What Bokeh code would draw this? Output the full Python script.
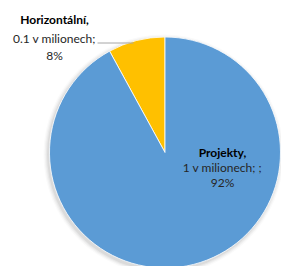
from math import pi
from bokeh.plotting import figure
from bokeh.models import Range1d
from bokeh.core.properties import value
from bokeh.embed import file_html
from bokeh.resources import INLINE

# data
categories = ["Horizontální", "Projekty"]
values = [0.09, 1.04]
value_labels = ["0.1", "1"]
label_suffix = ["", " ;"]
colors = ["#FFC000", "#5B9BD5"]

W, H = 281, 266
def py(y):  # pixel y -> data y
    return H - y

p = figure(width=W, height=H, output_backend="svg", toolbar_location=None,
           x_range=Range1d(0, W), y_range=Range1d(0, H),
           min_border=0, min_border_left=0, min_border_right=0,
           min_border_top=0, min_border_bottom=0)
p.axis.visible = False
p.grid.visible = False
p.outline_line_color = None
p.background_fill_color = "white"

cx, cy, r = 164.5, py(152), 115.5

# soft shadow
for i, a in enumerate([0.05, 0.04, 0.03, 0.02]):
    p.circle(x=[cx - 1.5], y=[cy - 2], radius=r + 1 + i * 1.2,
             fill_color="#000000", fill_alpha=a, line_color=None)

total = sum(values)
shares = [v / total for v in values]
start = pi / 2
starts, ends = [], []
for s in shares:
    starts.append(start)
    end = start + s * 2 * pi
    ends.append(end)
    start = end

p.wedge(x=[cx] * len(values), y=[cy] * len(values), radius=r,
        start_angle=starts, end_angle=ends, direction="anticlock",
        fill_color=colors, line_color="white", line_width=0.8)

font = value("Lato")
# label positions (pixel)
lab_pos = [(54, [19, 38, 55]), (222, [152, 167, 182])]
for i, cat in enumerate(categories):
    lx, ys = lab_pos[i]
    pct = f"{round(shares[i] * 100)}%"
    lines = [cat + ",", f"{value_labels[i]} v milionech;" + label_suffix[i], pct]
    for j, t in enumerate(lines):
        p.text(x=[lx], y=[py(ys[j])], text=[t], text_font=font,
               text_font_size="12px", text_align="center", text_baseline="middle",
               text_color="#000000" if j == 0 else "#262626",
               text_font_style="bold" if j == 0 else "normal")

# leader line for small slice
p.line(x=[97, 133], y=[py(42.5), py(42.5)], line_color="#A6A6A6", line_width=1)

open("out.html", "w").write(file_html(p, INLINE))
